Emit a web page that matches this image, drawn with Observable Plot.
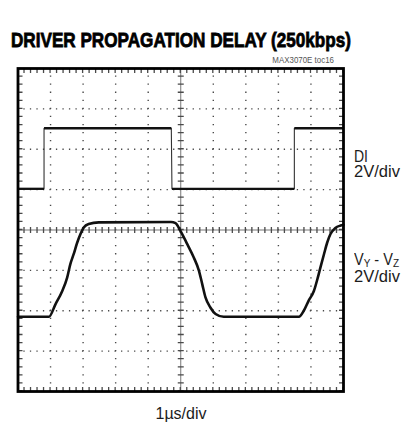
<!DOCTYPE html>
<html><head><meta charset="utf-8">
<script src="https://cdn.jsdelivr.net/npm/d3@7"></script>
<script src="https://cdn.jsdelivr.net/npm/@observablehq/plot@0.6"></script>
<style>
html,body{margin:0;padding:0;background:#fff;}
#wrap{position:relative;width:401px;height:427px;overflow:hidden;font-family:"Liberation Sans",Arial,sans-serif;}
#wrap svg{position:absolute;left:0;top:0;}
.t{position:absolute;white-space:nowrap;line-height:1;color:#1c1c1c;}
.t sub{font-size:11px;vertical-align:-2px;line-height:0;}
</style></head><body><div id="wrap"></div>
<script>
// Horizontal: time in divisions (1 µs/div); vertical: divisions (2 V/div), 0 = screen centre
const diTime  = [0, 0.80, 0.80, 4.71, 4.73, 8.49, 8.49, 10];
const diLevel = [1.02, 1.02, 2.52, 2.52, 1.02, 1.02, 2.52, 2.52];

const vyzTime  = [0, 0.95, 1.15, 1.36, 1.51, 1.61, 1.71, 1.82, 1.92, 2.02, 2.17, 2.48,
                  4.70, 4.84, 4.99, 5.20, 5.40, 5.56, 5.66, 5.76, 5.91, 6.07, 6.32,
                  8.63, 8.78, 8.93, 9.09, 9.21, 9.29, 9.40, 9.50, 9.60, 9.75, 9.91, 10];
const vyzLevel = [-2.15, -2.15, -1.84, -1.51, -1.18, -0.84, -0.60, -0.31, -0.10, 0.06, 0.15, 0.19,
                  0.20, 0.17, -0.02, -0.35, -0.68, -1.01, -1.34, -1.67, -1.92, -2.08, -2.15,
                  -2.15, -2.00, -1.75, -1.51, -1.18, -0.93, -0.60, -0.31, -0.10, 0.05, 0.11, 0.13];

const xGrid = [1, 2, 3, 4, 6, 7, 8, 9];
const yGrid = [-3, -2, -1, 1, 2, 3];
const xCentre = [5], yCentre = [0];
const xEdges = [0, 10], yEdges = [-4, 4];

const di = diTime.map((t, i) => ({t, v: diLevel[i]}));
const diPlateaus = [];
for (let i = 0; i < diTime.length - 1; i++) {
  if (diLevel[i] === diLevel[i + 1]) diPlateaus.push({x1: diTime[i], x2: diTime[i + 1], y: diLevel[i]});
}
const vyz = vyzTime.map((t, i) => ({t, v: vyzLevel[i]}));

const W = 401, H = 427, mL = 17.5, mR = 58, mT = 68, mB = 36;
const xStep = (W - mL - mR) / 50, yStep = (H - mT - mB) / 40;
const dash = s => `1.3,${s - 1.3}`;
const gridC = "#4a4a4a";

const chart = Plot.plot({
  width: W, height: H,
  marginLeft: mL, marginRight: mR, marginTop: mT, marginBottom: mB,
  x: {domain: [0, 10], axis: null},
  y: {domain: [-4, 4], axis: null},
  marks: [
    Plot.ruleX(xGrid, {stroke: gridC, strokeWidth: 1.4, strokeDasharray: dash(yStep), strokeDashoffset: 0.65}),
    Plot.ruleY(yGrid, {stroke: gridC, strokeWidth: 1.4, strokeDasharray: dash(xStep), strokeDashoffset: 0.65}),
    Plot.ruleX(xCentre, {stroke: "#777", strokeWidth: 1}),
    Plot.ruleY(yCentre, {stroke: "#777", strokeWidth: 1}),
    Plot.ruleX(xCentre, {stroke: gridC, strokeWidth: 6, strokeDasharray: dash(yStep), strokeDashoffset: 0.65}),
    Plot.ruleY(yCentre, {stroke: gridC, strokeWidth: 6, strokeDasharray: dash(xStep), strokeDashoffset: 0.65}),
    Plot.ruleY([yEdges[1]], {dy: 2.5, stroke: gridC, strokeWidth: 4, strokeDasharray: dash(xStep), strokeDashoffset: 0.65}),
    Plot.ruleY([yEdges[0]], {dy: -2.5, stroke: gridC, strokeWidth: 4, strokeDasharray: dash(xStep), strokeDashoffset: 0.65}),
    Plot.ruleX([xEdges[0]], {dx: 2.5, stroke: gridC, strokeWidth: 4, strokeDasharray: dash(yStep), strokeDashoffset: 0.65}),
    Plot.ruleX([xEdges[1]], {dx: -2.5, stroke: gridC, strokeWidth: 4, strokeDasharray: dash(yStep), strokeDashoffset: 0.65}),
    Plot.line(di, {x: "t", y: "v", stroke: "#333", strokeWidth: 1.1}),
    Plot.link(diPlateaus, {x1: "x1", x2: "x2", y1: "y", y2: "y", stroke: "#111", strokeWidth: 2.3}),
    Plot.line(vyz, {x: "t", y: "v", curve: "monotone-x", stroke: "#111", strokeWidth: 2.6, strokeLinejoin: "round"}),
    Plot.frame({stroke: "#000", strokeWidth: 2.8})
  ]
});

const wrap = document.getElementById("wrap");
wrap.appendChild(chart);

function label(html, opts) {
  const el = document.createElement("div");
  el.className = "t";
  el.innerHTML = html;
  Object.assign(el.style, opts.style || {});
  wrap.appendChild(el);
  if (opts.width) {
    const w = el.getBoundingClientRect().width;
    el.style.transformOrigin = opts.origin || "left";
    el.style.transform = `scaleX(${opts.width / w})`;
  }
  return el;
}
label("DRIVER PROPAGATION DELAY (250kbps)", {width: 340, style: {left: "11px", top: "30.4px", fontSize: "20.8px", fontWeight: "bold", color: "#000", webkitTextStroke: "0.8px #000"}});
label("MAX3070E toc16", {width: 61.6, origin: "right", style: {right: "66.7px", top: "55.3px", fontSize: "9.5px", color: "#555"}});
label("DI", {width: 14, style: {left: "354px", top: "148.8px", fontSize: "16px"}});
label("2V/div", {width: 46, style: {left: "354px", top: "164.2px", fontSize: "16px"}});
label("V<sub>Y</sub> - V<sub>Z</sub>", {width: 45, style: {left: "354px", top: "251.5px", fontSize: "16px"}});
label("2V/div", {width: 46, style: {left: "354px", top: "269.2px", fontSize: "16px"}});
const xl = label("1µs/div", {style: {left: "181px", top: "406px", fontSize: "16px"}});
xl.style.transform = "translateX(-50%)";
</script></body></html>
